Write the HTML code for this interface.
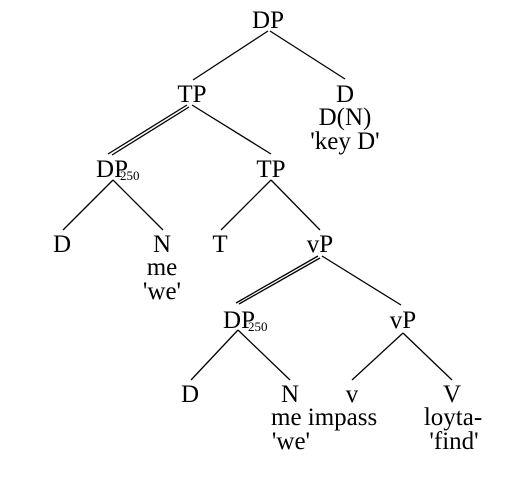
<!DOCTYPE html>
<html><head><style>
html,body{margin:0;padding:0;background:#fff;}
svg{display:block;}
text{font-family:"Liberation Serif",serif;font-size:25px;fill:#000;}
.s{font-size:13px;}
</style></head><body>
<svg width="508" height="495" viewBox="0 0 508 495">
<g stroke="#000" stroke-width="1.3" fill="none">
<line x1="268" y1="31" x2="193" y2="80"/>
<line x1="270" y1="31" x2="345" y2="79"/>
<line x1="187" y1="105" x2="108" y2="154"/>
<line x1="189" y1="107" x2="112" y2="155"/>
<line x1="192" y1="105" x2="271" y2="154"/>
<line x1="113" y1="180" x2="63" y2="230"/>
<line x1="113" y1="180" x2="163" y2="230"/>
<line x1="271" y1="180" x2="221" y2="230"/>
<line x1="271" y1="180" x2="320" y2="230"/>
<line x1="318" y1="256" x2="236" y2="303"/>
<line x1="320" y1="258" x2="239" y2="304"/>
<line x1="322" y1="256" x2="401" y2="305"/>
<line x1="238" y1="330" x2="191" y2="380"/>
<line x1="238" y1="330" x2="290" y2="380"/>
<line x1="403" y1="333" x2="352" y2="380"/>
<line x1="403" y1="333" x2="452" y2="380"/>
</g>
<g text-anchor="middle">
<text x="268" y="28">DP</text>
<text x="192" y="102">TP</text>
<text x="345" y="102">D</text>
<text x="345" y="125">D(N)</text>
<text x="345" y="149">'key D'</text>
<text x="112" y="177">DP</text>
<text x="271" y="177">TP</text>
<text x="62" y="252">D</text>
<text x="162" y="252">N</text>
<text x="162" y="275">me</text>
<text x="162" y="299">'we'</text>
<text x="220" y="252">T</text>
<text x="320" y="252">vP</text>
<text x="239" y="328">DP</text>
<text x="403" y="328">vP</text>
<text x="190" y="402">D</text>
<text x="290" y="402">N</text>
<text x="352" y="402">v</text>
<text x="452" y="402">V</text>
<text x="291" y="449">'we'</text>
<text x="453" y="425">loyta-</text>
<text x="454" y="449">'find'</text>
</g>
<text x="271" y="425">me impass</text>
<text class="s" x="120" y="180">250</text>
<text class="s" x="248" y="331">250</text>
</svg>
</body></html>
